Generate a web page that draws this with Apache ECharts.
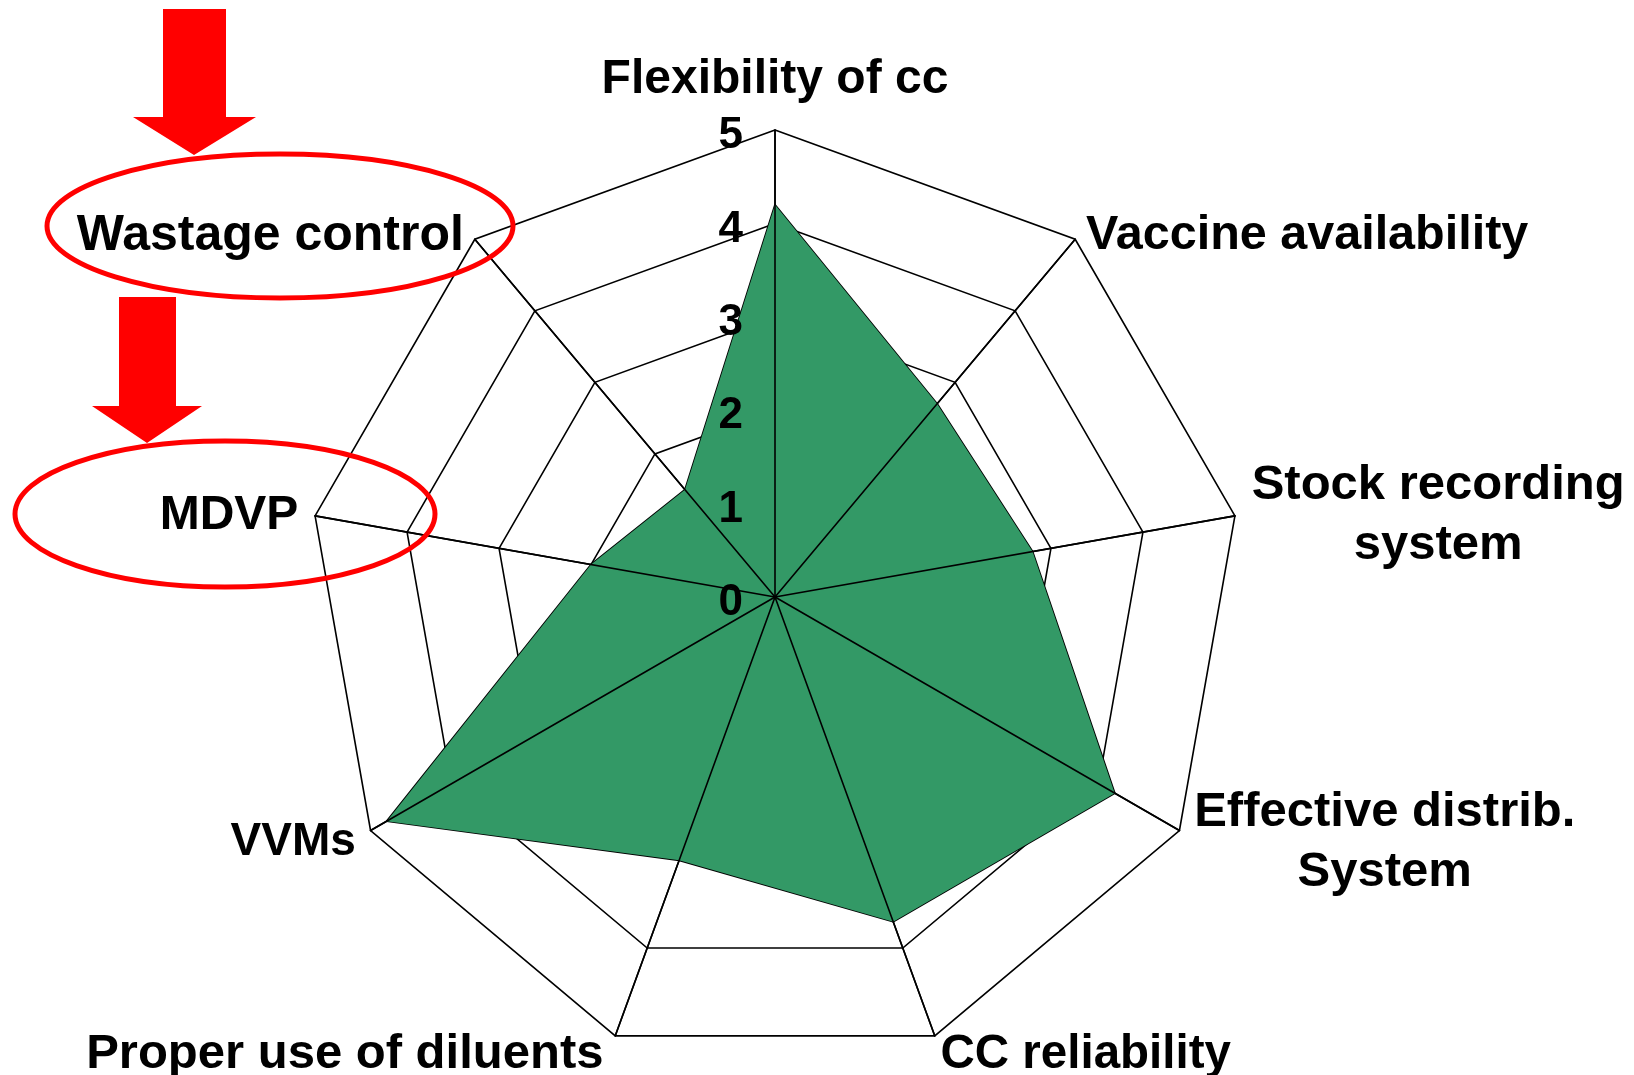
<!DOCTYPE html>
<html>
<head>
<meta charset="utf-8">
<script src="https://cdn.jsdelivr.net/npm/echarts@6/dist/echarts.min.js"></script>
<style>
  html, body { margin: 0; padding: 0; background: #fff; }
  #chart { width: 1634px; height: 1075px; }
</style>
</head>
<body>
<div id="chart"></div>
<script>
// Categories listed clockwise from the top
const categories = [
  'Flexibility of cc',
  'Vaccine availability',
  'Stock recording\nsystem',
  'Effective distrib.\nSystem',
  'CC reliability',
  'Proper use of diluents',
  'VVMs',
  'MDVP',
  'Wastage control'
];
const values = [4.2, 2.7, 2.8, 4.2, 3.7, 3.0, 4.8, 2.0, 1.5];
const scaleMin = 0;
const scaleMax = 5;
const splitCount = 5;

const FONT = '"Liberation Sans", Arial, sans-serif';

// text styling per label (style only, not data)
const nameStyleKey = ['s48', 's48b', 's49', 's49', 's47', 's49', 's46', 's48', 's50'];
const nameGapFor = [20, 17, 17, 17, 17, 17, 17, 17, 17];
const namePadFor = [null, [19, 0, 0, 0], null, null, null, [6, 6, 0, 0], null, null, [19, 0, 0, 0]];

// ECharts lays indicators counter-clockwise; reorder so they read clockwise.
const order = [0];
for (let i = categories.length - 1; i >= 1; i--) order.push(i);

const baseIndicators = order.map((idx) => {
  const o = { name: categories[idx], min: scaleMin, max: scaleMax, nameGap: nameGapFor[idx], _k: nameStyleKey[idx] };
  if (namePadFor[idx]) o.nameTextStyle = { padding: namePadFor[idx] };
  return o;
});
const overlayIndicators = order.map((idx, k) => {
  const o = { name: categories[idx], min: scaleMin, max: scaleMax };
  if (k === 0) o.axisLabel = { show: true };
  return o;
});
const orderedValues = order.map(idx => values[idx]);

const center = [775, 597];
const radius = 467;

function richStyle(size) {
  return { align: 'center', fontSize: size, fontWeight: 'bold', fontFamily: FONT, color: '#000', lineHeight: 60 };
}

const chart = echarts.init(document.getElementById('chart'), null, { renderer: 'canvas' });
chart.setOption({
  backgroundColor: '#ffffff',
  animation: false,
  radar: [
    {
      center: center,
      radius: radius,
      startAngle: 90,
      splitNumber: splitCount,
      shape: 'polygon',
      indicator: baseIndicators,
      axisNameGap: 17,
      axisName: {
        show: true,
        color: '#000',
        fontSize: 48,
        fontWeight: 'bold',
        fontFamily: FONT,
        padding: [6, 0, 0, 0],
        formatter: function (name, ind) {
          const key = (ind && ind._k) || 's48';
          return name.split('\n').map(s => '{' + key + '|' + s + '}').join('\n');
        },
        rich: {
          s46: richStyle(46),
          s47: richStyle(47.5),
          s48: richStyle(48),
          s48b: richStyle(48.5),
          s49: richStyle(49),
          s50: richStyle(50)
        }
      },
      axisLine: { show: true, lineStyle: { color: '#000', width: 1.6 } },
      axisTick: { show: false },
      axisLabel: { show: false },
      splitLine: { show: true, lineStyle: { color: '#000', width: 1.6 } },
      splitArea: { show: false }
    },
    {
      z: 10,
      center: center,
      radius: radius,
      startAngle: 90,
      splitNumber: splitCount,
      shape: 'polygon',
      indicator: overlayIndicators,
      axisName: { show: false },
      axisLine: { show: true, lineStyle: { color: '#000', width: 1.6 } },
      axisTick: { show: false },
      axisLabel: {
        show: false,
        color: '#000',
        fontSize: 44,
        fontWeight: 'bold',
        fontFamily: FONT,
        margin: 32,
        verticalAlign: 'top',
        lineHeight: 12,
        showMinLabel: true,
        showMaxLabel: true,
        hideOverlap: false
      },
      splitLine: { show: false },
      splitArea: { show: false }
    }
  ],
  series: [
    {
      type: 'radar',
      radarIndex: 0,
      symbol: 'none',
      lineStyle: { color: '#000', width: 1.8 },
      areaStyle: { color: '#339966', opacity: 1 },
      data: [{ value: orderedValues, name: 'Score' }]
    }
  ],
  graphic: [
    {
      type: 'polygon', z: 100,
      shape: { points: [[163, 9], [226, 9], [226, 117], [256, 117], [194, 155], [133, 117], [163, 117]] },
      style: { fill: '#FF0000' }
    },
    {
      type: 'ellipse', z: 100,
      shape: { cx: 280, cy: 226, rx: 233, ry: 72 },
      style: { fill: null, stroke: '#FF0000', lineWidth: 5 }
    },
    {
      type: 'polygon', z: 100,
      shape: { points: [[119, 297], [176, 297], [176, 406], [202, 406], [147, 443], [92, 406], [119, 406]] },
      style: { fill: '#FF0000' }
    },
    {
      type: 'ellipse', z: 100,
      shape: { cx: 225, cy: 514, rx: 210, ry: 73 },
      style: { fill: null, stroke: '#FF0000', lineWidth: 5 }
    }
  ]
});
</script>
</body>
</html>
